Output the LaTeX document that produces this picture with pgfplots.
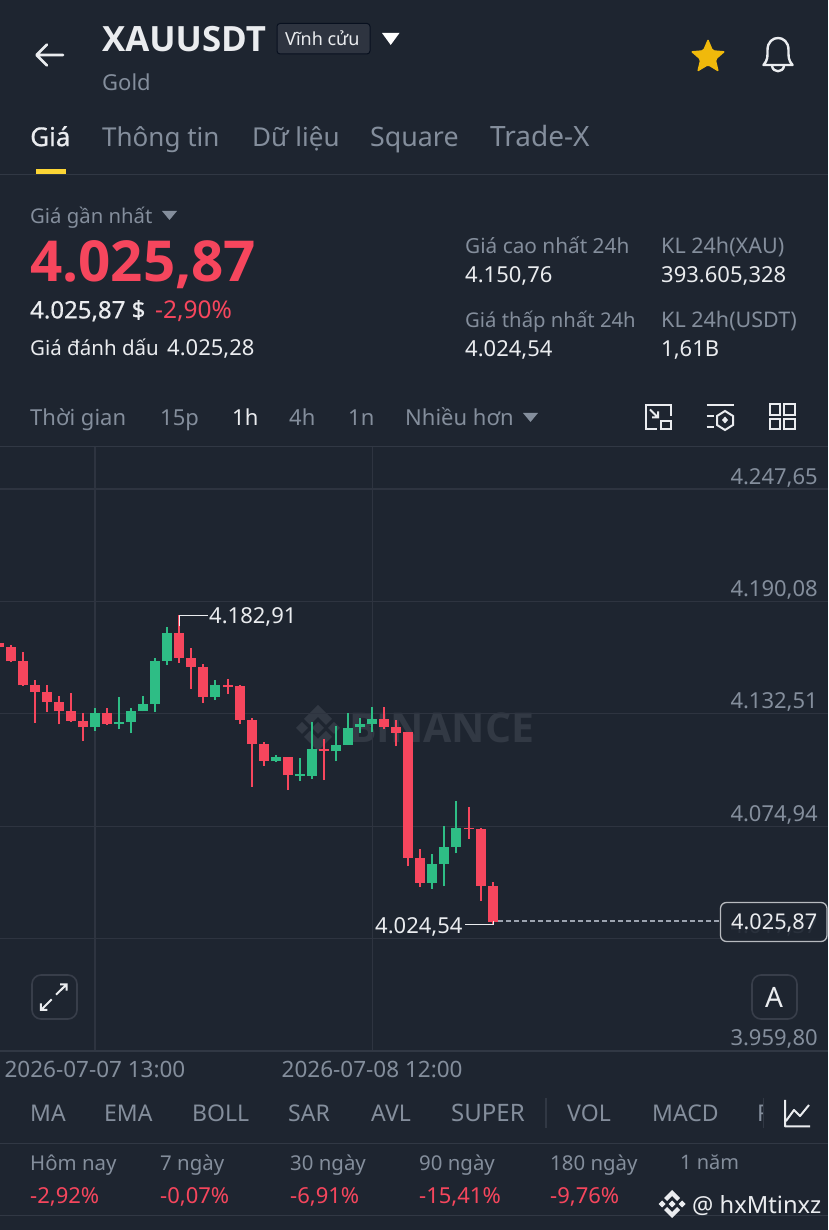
\documentclass[border=0pt]{standalone}
\usepackage{fontspec}
\setmainfont{Noto Sans}
\newfontfamily\bfam{Open Sans}
\newfontfamily\mfam[FakeBold=0.6]{Noto Sans}
\usepackage{pgfplots}
\usepackage{pgfplotstable}
\pgfplotsset{compat=1.18}
\usetikzlibrary{shapes.geometric}
\definecolor{bgc}{HTML}{1E2530}
\definecolor{gridc}{HTML}{2E3440}
\definecolor{sepc}{HTML}{313844}
\definecolor{redc}{HTML}{F6465D}
\definecolor{greenc}{HTML}{2EBD85}
\definecolor{grayc}{HTML}{848E9C}
\definecolor{whitec}{HTML}{EAECEF}
\definecolor{wmc}{HTML}{323944}
\definecolor{btnc}{HTML}{383E4A}
\definecolor{barc}{HTML}{FCD535}
\definecolor{starc}{HTML}{F0B90B}
\pgfplotstableread{
i hi lo h l
-1 4168.60 4166.55 4168.60 4166.55
0 4166.55 4159.38 4167.74 4158.86
1 4159.38 4147.08 4164.16 4146.74
2 4147.08 4143.84 4149.64 4127.96
3 4143.67 4138.55 4147.08 4133.60
4 4138.55 4133.77 4141.62 4127.11
5 4133.77 4128.99 4143.16 4128.30
6 4128.99 4125.57 4132.91 4118.74
8 4132.74 4127.45 4135.47 4126.94
14 4174.06 4161.25 4182.91 4158.69
15 4161.08 4156.47 4166.38 4145.21
16 4156.47 4141.11 4157.84 4138.21
18 4147.08 4146.06 4150.33 4142.65
19 4146.57 4129.50 4147.25 4127.45
20 4129.33 4117.04 4130.18 4095.19
21 4116.87 4108.34 4118.24 4105.95
23 4110.38 4100.99 4110.38 4093.48
26 4114.31 4113.29 4119.77 4098.60
31 4129.85 4125.92 4135.82 4124.55
32 4125.92 4122.85 4129.16 4115.85
33 4123.02 4058.82 4123.02 4054.56
34 4058.82 4046.02 4063.43 4043.97
38 4074.02 4073.34 4084.60 4068.56
39 4073.34 4044.31 4074.02 4036.63
40 4044.31 4025.87 4046.36 4024.54
}\redtable
\pgfplotstableread{
i hi lo h l
7 4132.74 4125.57 4135.47 4123.87
9 4128.47 4127.45 4140.94 4124.55
10 4133.77 4128.47 4135.47 4122.67
11 4137.52 4133.77 4141.62 4133.77
12 4159.55 4137.52 4161.25 4133.60
13 4174.06 4159.55 4176.79 4157.50
17 4147.08 4141.11 4149.82 4139.57
22 4110.38 4108.34 4111.24 4107.82
24 4101.85 4100.82 4109.70 4098.26
25 4114.48 4100.82 4128.31 4099.29
27 4116.36 4113.29 4126.26 4108.16
28 4125.41 4116.53 4132.75 4116.53
29 4127.12 4125.58 4130.36 4122.51
30 4129.68 4127.29 4135.82 4123.19
35 4055.58 4046.02 4060.87 4042.95
36 4064.46 4055.58 4075.04 4044.31
37 4074.02 4064.46 4088.02 4061.04
}\greentable
% x, centre y, size, colour, text
\newcommand\T[5]{\node[anchor=base west,inner sep=0pt,text=#4] at (#1,{#2+0.35*#3}) {\fontsize{#3pt}{#3pt}\selectfont #5};}
\newcommand\TB[5]{\node[anchor=base west,inner sep=0pt,text=#4] at (#1,{#2+0.35*#3}) {\bfam\bfseries\fontsize{#3pt}{#3pt}\selectfont #5};}
\newcommand\TM[5]{\node[anchor=base west,inner sep=0pt,text=#4] at (#1,{#2+0.35*#3}) {\mfam\fontsize{#3pt}{#3pt}\selectfont #5};}
\begin{document}
\begin{tikzpicture}[x=1pt,y=1pt]
\fill[bgc] (0,0) rectangle (828,1230);
\path[use as bounding box] (0,0) rectangle (828,1230);
% watermark and interface
\begin{scope}[y=-1pt,shift={(0pt,1230pt)}]
 % watermark
 \begin{scope}[shift={(318,728)}]
  \fill[wmc] (0,-23) -- (14,-9) -- (8,-3) -- (0,-11) -- (-8,-3) -- (-14,-9) -- cycle;
  \fill[wmc] (0,23) -- (14,9) -- (8,3) -- (0,11) -- (-8,3) -- (-14,9) -- cycle;
  \fill[wmc] (0,-6) -- (6,0) -- (0,6) -- (-6,0) -- cycle;
  \fill[wmc] (-16,-6) -- (-10,0) -- (-16,6) -- (-22,0) -- cycle;
  \fill[wmc] (16,-6) -- (22,0) -- (16,6) -- (10,0) -- cycle;
 \end{scope}
 \TB{349}{728}{41}{wmc}{BINANCE}
\end{scope}
\begin{axis}[
 at={(0pt,179pt)},anchor=south west,
 scale only axis,width=828pt,height=604pt,
 xmin=-0.88,xmax=67.83,ymin=3959.80,ymax=4269.2,
 axis line style={draw=none},
 major tick length=0pt,
 xtick={7,30},
 xticklabels={2026-07-07 13:00,2026-07-08 12:00},
 ytick={3959.80,4017.37,4074.94,4132.51,4190.08,4247.65},
 yticklabels={{3.959,80},{4.017,37},{4.074,94},{4.132,51},{4.190,08},{4.247,65}},
 yticklabel pos=right,
 grid=major,
 major grid style={gridc,line width=1.2pt},
 tick label style={text=grayc},
 yticklabel style={font=\fontsize{22}{22}\selectfont,anchor=south east,xshift=-10pt,yshift=2pt,inner sep=0pt},
 xticklabel style={font=\fontsize{22.5}{22.5}\selectfont,anchor=center,yshift=-19pt,inner sep=0pt},
 clip=true,
]
\addplot[draw=none,no markers,error bars/.cd,y dir=plus,y explicit,error mark=none,error bar style={redc,line width=2pt}]
 table[x=i,y=l,y error plus expr=\thisrow{h}-\thisrow{l}] {\redtable};
\addplot[draw=none,no markers,error bars/.cd,y dir=plus,y explicit,error mark=none,error bar style={redc,line width=10pt}]
 table[x=i,y=lo,y error plus expr=\thisrow{hi}-\thisrow{lo}] {\redtable};
\addplot[draw=none,no markers,error bars/.cd,y dir=plus,y explicit,error mark=none,error bar style={greenc,line width=2pt}]
 table[x=i,y=l,y error plus expr=\thisrow{h}-\thisrow{l}] {\greentable};
\addplot[draw=none,no markers,error bars/.cd,y dir=plus,y explicit,error mark=none,error bar style={greenc,line width=10pt}]
 table[x=i,y=lo,y error plus expr=\thisrow{hi}-\thisrow{lo}] {\greentable};
\addplot[grayc!80!white,line width=1.3pt,dash pattern=on 5pt off 3pt] coordinates {(40.45,4026.4) (58.85,4026.4)};
\end{axis}
\begin{scope}[y=-1pt,shift={(0pt,1230pt)}]
 % header
 \draw[whitec,line width=2.6pt,line cap=round,line join=round] (37,55) -- (63,55) (47,44.5) -- (36.5,55) -- (47,65.5);
 \TB{102}{39}{34.8}{whitec}{XAUUSDT}
 \draw[fill=gridc,draw=sepc!120,line width=1pt,rounded corners=3pt] (277,23.5) rectangle (370,54);
 \T{285}{39}{18}{whitec}{Vĩnh cửu}
 \fill[white] (382,33) -- (399.5,33) -- (390.7,45) -- cycle;
 \T{102}{83}{22}{grayc}{Gold}
 \node[star,star points=5,star point ratio=2.2,fill=starc,draw=none,minimum size=37pt,inner sep=0pt,rounded corners=1.5pt] at (708,57) {};
 \draw[whitec,line width=2.4pt,line join=round] (763.5,65) .. controls (768,60) and (767.5,56) .. (767.5,50) .. controls (767.5,34) and (788.5,34) .. (788.5,50) .. controls (788.5,56) and (788,60) .. (792.5,65) -- cycle;
 \draw[whitec,line width=2.4pt] (772,66) .. controls (773,73) and (783,73) .. (784,66);
 % tabs
 \TM{30}{137}{26}{whitec}{Giá}
 \T{102}{137}{26}{grayc}{Thông tin}
 \T{252}{137}{26}{grayc}{Dữ liệu}
 \T{370}{137}{26.8}{grayc}{Square}
 \T{490}{137}{28}{grayc}{Trade-X}
 \fill[barc] (36,169) rectangle (66,174);
 \draw[sepc,line width=1pt] (0,175) -- (828,175);
 % price block
 \T{30}{216}{20.3}{grayc}{Giá gần nhất}
 \fill[grayc] (162,211) -- (177,211) -- (169.5,220) -- cycle;
 \TB{30}{262}{56.5}{redc}{4.025,87}
 \TM{30}{310}{24}{whitec}{4.025,87 \$}
 \T{155}{310}{24.5}{redc}{-2,90\%}
 \T{30}{348}{20.5}{whitec}{Giá đánh dấu}
 \T{167}{348}{22}{whitec}{4.025,28}
 \T{465}{246}{20.8}{grayc}{Giá cao nhất 24h}
 \T{661}{246}{21.5}{grayc}{KL 24h(XAU)}
 \T{465}{275}{22}{whitec}{4.150,76}
 \T{661}{275}{22}{whitec}{393.605,328}
 \T{465}{320}{20.3}{grayc}{Giá thấp nhất 24h}
 \T{661}{320}{21.5}{grayc}{KL 24h(USDT)}
 \T{465}{349}{22}{whitec}{4.024,54}
 \T{661}{349}{22}{whitec}{1,61B}
 % toolbar
 \T{30}{418}{22}{grayc}{Thời gian}
 \T{160}{418}{22}{grayc}{15p}
 \T{232}{418}{22}{whitec}{1h}
 \T{289}{418}{22}{grayc}{4h}
 \T{348}{418}{22}{grayc}{1n}
 \T{405}{418}{22}{grayc}{Nhiều hơn}
 \fill[grayc] (523,413) -- (538,413) -- (530.5,422) -- cycle;
 \begin{scope}[whitec,line width=2pt]
  \draw (657,429.5) -- (646,429.5) -- (646,405) -- (670.5,405) -- (670.5,416);
  \draw (660.5,421) rectangle (670.5,429.5);
  \draw (650,409.5) -- (658,417.5) (658,411.5) -- (658,417.5) -- (652,417.5);
  \draw (706.5,405.5) -- (733.5,405.5) (706.5,416) -- (714,416) (706.5,427.5) -- (714,427.5);
  \draw (725,411) -- (733,416) -- (733,425) -- (725,430) -- (717,425) -- (717,416) -- cycle;
  \draw (769.5,404.5) rectangle (780,415) (784,404.5) rectangle (795,415) (769.5,419.5) rectangle (780,429.5) (784,419.5) rectangle (795,429.5);
 \end{scope}
 \fill[whitec] (725,416.5) -- (728,420) -- (725,423.5) -- (722,420) -- cycle;
 \draw[sepc,line width=1pt] (0,446.5) -- (828,446.5);
 \draw[sepc,line width=1.5pt] (0,1051) -- (828,1051);
 % annotations on the chart
 \draw[whitec,line width=1pt] (179,626) -- (179,615.5) -- (208,615.5);
 \T{209}{616}{22}{whitec}{4.182,91}
 \T{375}{926}{22}{whitec}{4.024,54}
 \draw[whitec,line width=1pt] (465,924.5) -- (493,924.5) -- (493,921);
 \draw[fill=bgc,fill opacity=0.88,draw=whitec!75!bgc,line width=1.3pt,rounded corners=6pt] (720.5,902.5) rectangle (827,941.5);
 \T{731}{922}{21.7}{whitec}{4.025,87}
 % chart buttons
 \draw[fill=bgc,draw=btnc,line width=1.6pt,rounded corners=9pt] (32,975) rectangle (77,1019);
 \draw[whitec,line width=2pt] (56,994.7) -- (66,985) (60,984.5) -- (66.7,984.5) -- (66.7,990.7);
 \draw[whitec,line width=2pt] (51.7,999.3) -- (41.5,1009.5) (40.8,1003.3) -- (40.8,1010) -- (47.3,1010);
 \draw[fill=bgc,draw=btnc,line width=1.6pt,rounded corners=9pt] (752,975) rectangle (797,1019);
 \node[text=whitec,inner sep=0pt] at (774,997) {\fontsize{28pt}{28pt}\selectfont A};
 % indicator bar
 \T{30}{1113}{23}{grayc}{MA}
 \T{104}{1113}{23}{grayc}{EMA}
 \T{192}{1113}{23}{grayc}{BOLL}
 \T{288}{1113}{23}{grayc}{SAR}
 \T{371}{1113}{23}{grayc}{AVL}
 \T{451}{1113}{24}{grayc}{SUPER}
 \draw[sepc,line width=1.5pt] (546,1098) -- (546,1128);
 \T{567}{1113}{23}{grayc}{VOL}
 \T{652}{1113}{23}{grayc}{MACD}
 \begin{scope}
  \clip (750,1095) rectangle (763,1130);
  \T{757}{1113}{23}{grayc}{RSI}
 \end{scope}
 \draw[sepc,line width=1.5pt] (763.5,1098) -- (763.5,1128);
 \draw[whitec,line width=2pt,line join=round] (785,1100) -- (785,1126.5) -- (810,1126.5) (786,1121) -- (794,1110) -- (800,1116) -- (809,1105);
 \draw[sepc,line width=1pt] (0,1143.5) -- (828,1143.5);
 % performance row
 \T{30}{1163}{20.4}{grayc}{Hôm nay}
 \T{160}{1163}{20.4}{grayc}{7 ngày}
 \T{290}{1163}{20.4}{grayc}{30 ngày}
 \T{419}{1163}{20.4}{grayc}{90 ngày}
 \T{550}{1163}{20.4}{grayc}{180 ngày}
 \T{680}{1163}{20}{grayc}{1 năm}
 \T{30}{1196}{22}{redc}{-2,92\%}
 \T{160}{1196}{22}{redc}{-0,07\%}
 \T{290}{1196}{22}{redc}{-6,91\%}
 \T{419}{1196}{22}{redc}{-15,41\%}
 \T{550}{1196}{22}{redc}{-9,76\%}
 \draw[sepc,line width=1pt] (0,1216) -- (828,1216);
 % corner signature
 \begin{scope}[shift={(672,1204)}]
  \fill[whitec] (0,-14) -- (8,-6) -- (5,-3) -- (0,-8) -- (-5,-3) -- (-8,-6) -- cycle;
  \fill[whitec] (0,14) -- (8,6) -- (5,3) -- (0,8) -- (-5,3) -- (-8,6) -- cycle;
  \fill[whitec] (0,-3.5) -- (3.5,0) -- (0,3.5) -- (-3.5,0) -- cycle;
  \fill[whitec] (-10,-3.5) -- (-6.5,0) -- (-10,3.5) -- (-13.5,0) -- cycle;
  \fill[whitec] (10,-3.5) -- (13.5,0) -- (10,3.5) -- (6.5,0) -- cycle;
 \end{scope}
 \T{692}{1205}{23.7}{whitec}{@ hxMtinxz}
\end{scope}
\end{tikzpicture}
\end{document}
